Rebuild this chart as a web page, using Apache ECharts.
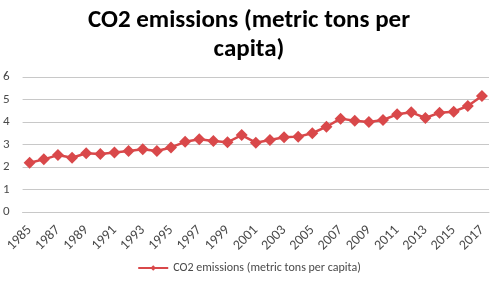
<!DOCTYPE html>
<html>
<head>
<meta charset="utf-8">
<script src="https://cdn.jsdelivr.net/npm/echarts@6/dist/echarts.min.js"></script>
<style>
  html, body { margin: 0; padding: 0; background: #fff; }
  #chart { width: 498px; height: 286px; }
</style>
</head>
<body>
<div id="chart"></div>
<script>
const years = ['1985', '1986', '1987', '1988', '1989', '1990', '1991', '1992', '1993', '1994',
  '1995', '1996', '1997', '1998', '1999', '2000', '2001', '2002', '2003', '2004',
  '2005', '2006', '2007', '2008', '2009', '2010', '2011', '2012', '2013', '2014',
  '2015', '2016', '2017']
const emissions = [2.19, 2.34, 2.53, 2.41, 2.61, 2.58, 2.64, 2.71, 2.79, 2.71,
  2.87, 3.12, 3.23, 3.16, 3.10, 3.42, 3.08, 3.20, 3.32, 3.35,
  3.50, 3.79, 4.15, 4.06, 4.00, 4.09, 4.34, 4.43, 4.18, 4.41,
  4.46, 4.71, 5.16]
const seriesName = 'CO2 emissions (metric tons per capita)'

const font = 'Carlito, "Liberation Sans", "Open Sans", sans-serif'
const lineColor = '#d9484a'
const textColor = '#4a4a4a'
const gridColor = '#c8c8c8'

const chart = echarts.init(document.getElementById('chart'))
chart.setOption({
  animation: false,
  textStyle: { fontFamily: font },
  title: {
    text: 'CO2 emissions (metric tons per\ncapita)',
    left: 'center',
    top: 1,
    textStyle: {
      fontFamily: font,
      fontSize: 25,
      fontWeight: 'bold',
      color: '#000',
      lineHeight: 29,
    },
  },
  grid: {
    left: 22,
    right: 9,
    top: 77,
    bottom: 74,
  },
  legend: {
    bottom: 7,
    left: 'center',
    itemWidth: 30,
    itemHeight: 7,
    itemGap: 4,
    textStyle: { color: textColor, fontSize: 12, fontFamily: font },
    data: [seriesName],
  },
  xAxis: {
    type: 'category',
    data: years,
    boundaryGap: true,
    axisLine: { lineStyle: { color: gridColor } },
    axisTick: { show: false },
    axisLabel: {
      color: textColor,
      fontSize: 14,
      rotate: 45,
      interval: 1,
      margin: 16,
    },
  },
  yAxis: {
    type: 'value',
    min: 0,
    max: 6,
    interval: 1,
    axisLabel: { color: textColor, fontSize: 13, margin: 13 },
    splitLine: { lineStyle: { color: gridColor, width: 1 } },
  },
  series: [
    {
      name: seriesName,
      type: 'line',
      data: emissions,
      symbol: 'diamond',
      symbolSize: 12,
      showAllSymbol: true,
      lineStyle: { color: lineColor, width: 2.5 },
      itemStyle: { color: lineColor },
    },
  ],
})
</script>
</body>
</html>
